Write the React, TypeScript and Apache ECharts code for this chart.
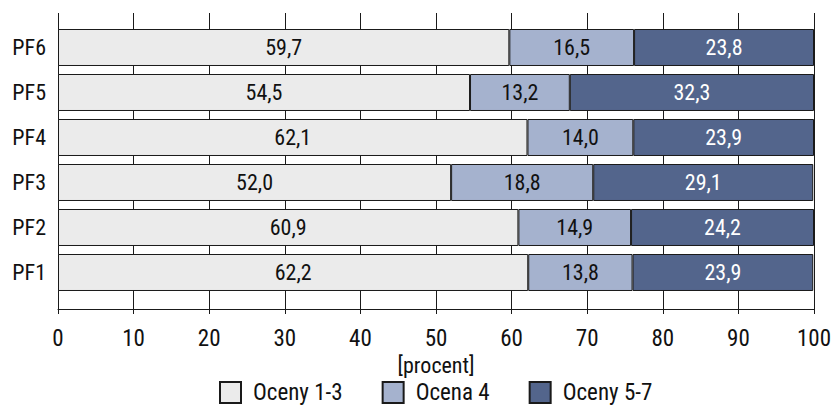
import React, { useEffect, useRef } from "react";
import * as echarts from "echarts";

// Survey categories, bottom to top
const categories = ["PF1", "PF2", "PF3", "PF4", "PF5", "PF6"];

// Share of answers per group [%]
const oceny13 = [62.2, 60.9, 52.0, 62.1, 54.5, 59.7];
const ocena4 = [13.8, 14.9, 18.8, 14.0, 13.2, 16.5];
const oceny57 = [23.9, 24.2, 29.1, 23.9, 32.3, 23.8];

const seriesNames = ["Oceny 1-3", "Ocena 4", "Oceny 5-7"];
const seriesColors = ["#ebebeb", "#a5b2ce", "#53658c"];
const labelColors = ["#111111", "#111111", "#ffffff"];

const FONT =
  "'Roboto Condensed', 'Liberation Sans Narrow', 'Arial Narrow', 'DejaVu Sans Condensed', Roboto, sans-serif";

const fmt = (v: number) => v.toFixed(1).replace(".", ",");

export default function App() {
  const ref = useRef<HTMLDivElement>(null);

  useEffect(() => {
    if (!ref.current) return;
    const chart = echarts.init(ref.current, undefined, { renderer: "svg" });

    const values = [oceny13, ocena4, oceny57];

    chart.setOption({
      animation: false,
      textStyle: { fontFamily: FONT },
      grid: [
        // frame with the vertical grid lines and the percent axis
        { left: 58, right: 21, top: 13, bottom: 96, containLabel: false },
        // the stacked bars themselves
        { left: 58, right: 21, top: 25, bottom: 110, containLabel: false },
      ],
      xAxis: [
        {
          gridIndex: 0,
          type: "value",
          min: 0,
          max: 100,
          interval: 10,
          name: "[procent]",
          nameLocation: "middle",
          nameGap: 42,
          nameTextStyle: { fontSize: 22, color: "#111", fontFamily: FONT },
          axisLine: { show: true, lineStyle: { color: "#1a1a1a", width: 1 } },
          axisTick: { show: true, length: 5, lineStyle: { color: "#1a1a1a", width: 1 } },
          axisLabel: { fontSize: 23, color: "#111", margin: 18, fontFamily: FONT },
          splitLine: { show: true, lineStyle: { color: "#1a1a1a", width: 1 } },
        },
        {
          gridIndex: 1,
          type: "value",
          min: 0,
          max: 100,
          show: false,
          splitLine: { show: false },
        },
      ],
      yAxis: [
        {
          gridIndex: 0,
          type: "value",
          min: 0,
          max: 1,
          show: false,
          splitLine: { show: false },
        },
        {
          gridIndex: 1,
          type: "category",
          data: categories,
          axisLine: { show: false },
          axisTick: { show: false },
          axisLabel: { fontSize: 22, color: "#111", margin: 12, fontFamily: FONT },
          splitLine: { show: false },
        },
      ],
      legend: {
        left: 219,
        top: 381,
        padding: 0,
        itemWidth: 21,
        itemHeight: 21,
        itemGap: 39,
        icon: "rect",
        data: seriesNames,
        textStyle: {
          fontSize: 23,
          lineHeight: 22,
          color: "#111",
          fontFamily: FONT,
          padding: [0, 0, 0, 7],
        },
      },
      series: seriesNames.map((name, i) => ({
        name,
        type: "bar",
        stack: "total",
        xAxisIndex: 1,
        yAxisIndex: 1,
        barCategoryGap: "17.8%",
        data: values[i],
        itemStyle: { color: seriesColors[i], borderColor: "#1a1a1a", borderWidth: 1 },
        label: {
          show: true,
          position: "inside",
          color: labelColors[i],
          fontSize: 22,
          fontFamily: FONT,
          formatter: (p: any) => fmt(p.value),
        },
      })),
    });

    return () => chart.dispose();
  }, []);

  return (
    <div
      ref={ref}
      style={{ position: "fixed", left: 0, top: 0, width: 835, height: 405, background: "#fff" }}
    />
  );
}
